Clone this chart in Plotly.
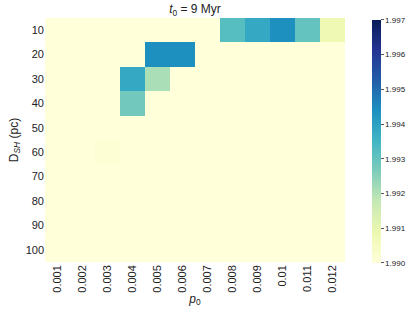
import plotly.graph_objects as go

p0_labels = ["0.001", "0.002", "0.003", "0.004", "0.005", "0.006",
             "0.007", "0.008", "0.009", "0.01", "0.011", "0.012"]
dsh_labels = ["10", "20", "30", "40", "50", "60", "70", "80", "90", "100"]

z = [
    [1.9900, 1.9900, 1.9900, 1.9900, 1.9900, 1.9900, 1.9900, 1.9932, 1.9938, 1.9944, 1.9930, 1.9908],
    [1.9900, 1.9900, 1.9900, 1.9900, 1.9944, 1.9944, 1.9900, 1.9900, 1.9900, 1.9900, 1.9900, 1.9900],
    [1.9900, 1.9900, 1.9900, 1.9938, 1.9921, 1.9900, 1.9900, 1.9900, 1.9900, 1.9900, 1.9900, 1.9900],
    [1.9900, 1.9900, 1.9900, 1.9928, 1.9900, 1.9900, 1.9900, 1.9900, 1.9900, 1.9900, 1.9900, 1.9900],
    [1.9900, 1.9900, 1.9900, 1.9900, 1.9900, 1.9900, 1.9900, 1.9900, 1.9900, 1.9900, 1.9900, 1.9900],
    [1.9900, 1.9900, 1.9901, 1.9900, 1.9900, 1.9900, 1.9900, 1.9900, 1.9900, 1.9900, 1.9900, 1.9900],
    [1.9900, 1.9900, 1.9900, 1.9900, 1.9900, 1.9900, 1.9900, 1.9900, 1.9900, 1.9900, 1.9900, 1.9900],
    [1.9900, 1.9900, 1.9900, 1.9900, 1.9900, 1.9900, 1.9900, 1.9900, 1.9900, 1.9900, 1.9900, 1.9900],
    [1.9900, 1.9900, 1.9900, 1.9900, 1.9900, 1.9900, 1.9900, 1.9900, 1.9900, 1.9900, 1.9900, 1.9900],
    [1.9900, 1.9900, 1.9900, 1.9900, 1.9900, 1.9900, 1.9900, 1.9900, 1.9900, 1.9900, 1.9900, 1.9900],
]
cbar_ticks = [1.990, 1.991, 1.992, 1.993, 1.994, 1.995, 1.996, 1.997]

ylgnbu = [
    [0.0, "#ffffd9"], [0.125, "#edf8b1"], [0.25, "#c7e9b4"], [0.375, "#7fcdbb"],
    [0.5, "#41b6c4"], [0.625, "#1d91c0"], [0.75, "#225ea8"], [0.875, "#253494"],
    [1.0, "#081d58"],
]

font = "Liberation Sans, Arial, sans-serif"

fig = go.Figure(go.Heatmap(
    z=z, x=p0_labels, y=dsh_labels,
    colorscale=ylgnbu, zmin=1.990, zmax=1.997,
    xgap=0, ygap=0,
    colorbar=dict(
        x=1.09, xanchor="left", xref="paper", xpad=0, ypad=0,
        y=0.992, yanchor="top", yref="paper", len=243, lenmode="pixels",
        thickness=9, outlinewidth=0,
        tickvals=cbar_ticks, ticktext=[f"{t:.3f}" for t in cbar_ticks],
        ticks="outside", ticklen=3, tickwidth=1, tickcolor="#555",
        tickfont=dict(size=8, color="#222", family=font),
    ),
))

fig.update_layout(
    width=407, height=315,
    margin=dict(l=45, r=62, t=18, b=53, autoexpand=False),
    paper_bgcolor="white", plot_bgcolor="white",
    font=dict(family=font, color="#222"),
    title=dict(text="<i>t</i><sub>0</sub> = 9 Myr", xref="paper", x=0.5, xanchor="center",
               y=0.985, yanchor="top", font=dict(size=12, color="#222")),
)
fig.update_xaxes(
    type="category", tickangle=-90, tickfont=dict(size=11, color="#222"),
    ticks="", showgrid=False, showline=False, zeroline=False, automargin=False,
    title=dict(text="<i>p</i><sub>0</sub>", font=dict(size=12, color="#222"), standoff=2),
)
fig.update_yaxes(
    type="category", autorange="reversed", tickfont=dict(size=11, color="#222"),
    ticks="", showgrid=False, showline=False, zeroline=False, automargin=False,
    title=dict(text="D<sub><i>SH</i></sub> (pc)", font=dict(size=12, color="#222"), standoff=4),
)

fig.write_html("out.html", config={"displayModeBar": False},
               post_script="document.body.style.margin='0';")
